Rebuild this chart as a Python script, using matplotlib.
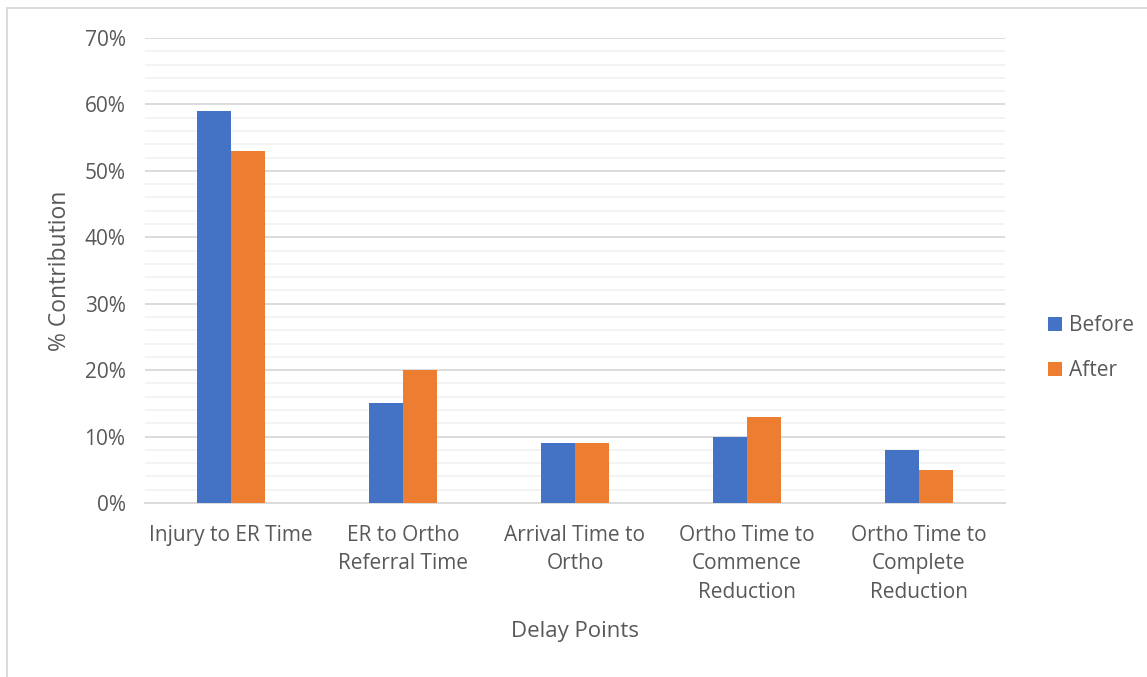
import matplotlib.pyplot as plt
import numpy as np
from matplotlib.lines import Line2D
from matplotlib.ticker import MultipleLocator, PercentFormatter

categories = ["Injury to ER Time", "ER to Ortho\nReferral Time", "Arrival Time to\nOrtho",
              "Ortho Time to\nCommence\nReduction", "Ortho Time to\nComplete\nReduction"]
before = [59, 15, 9, 10, 8]
after = [53, 20, 9, 13, 5]

plt.rcParams['font.family'] = ['Open Sans', 'DejaVu Sans']
grey = "#595959"

fig = plt.figure(figsize=(11.47, 6.77), dpi=100)
ax = fig.add_axes([145/1147, 1-503/677, 860/1147, 465/677])

x = np.arange(len(categories))
w = 0.2
ax.bar(x - w/2, before, w, color="#4472c4", label="Before", zorder=3)
ax.bar(x + w/2, after, w, color="#ed7d31", label="After", zorder=3)

ax.set_xlim(-0.5, len(categories) - 0.5)
ax.set_ylim(0, 70)
ax.yaxis.set_major_locator(MultipleLocator(10))
ax.yaxis.set_minor_locator(MultipleLocator(2))
ax.yaxis.set_major_formatter(PercentFormatter(decimals=0))
ax.grid(which="major", axis="y", color="#d9d9d9", lw=1.3, zorder=0)
ax.grid(which="minor", axis="y", color="#f2f2f2", lw=1.3, zorder=0)

for s in ["top", "right", "left"]:
    ax.spines[s].set_visible(False)
ax.spines["bottom"].set_color("#d9d9d9")
ax.spines["bottom"].set_linewidth(1.3)

ax.set_xticks(x)
ax.set_xticklabels(categories, fontsize=15, color=grey, linespacing=1.45)
ax.tick_params(axis="x", length=0, pad=16)
ax.tick_params(axis="y", which="both", length=0, labelsize=15, labelcolor=grey, pad=14)

ax.set_xlabel("Delay Points", fontsize=16, color=grey, labelpad=13)
ax.set_ylabel("% Contribution", fontsize=16.5, color=grey)
ax.yaxis.set_label_coords(-0.085, 0.5)

ax.legend(loc="center left", bbox_to_anchor=(1.028, 0.333), frameon=False, fontsize=15,
          labelcolor=grey, handlelength=0.7, handleheight=0.7, handletextpad=0.3,
          labelspacing=1.15)

# chart area border
fig.add_artist(Line2D([7/1147, 7/1147], [0, 1-8/677], color="#d9d9d9", lw=1.3))
fig.add_artist(Line2D([7/1147, 1], [1-8/677, 1-8/677], color="#d9d9d9", lw=1.3))

fig.savefig("out.png", dpi=100)
